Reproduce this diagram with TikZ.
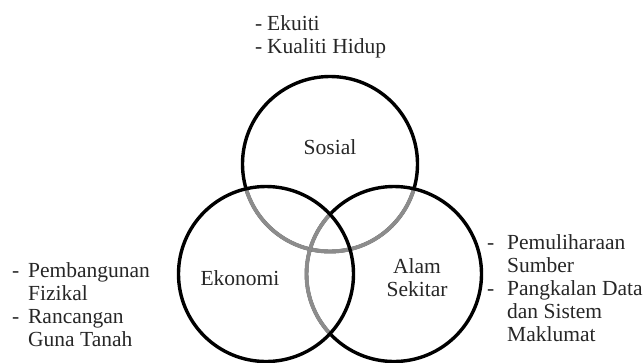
\documentclass[tikz,border=0pt]{standalone}
\usepackage{fontspec}
\setmainfont{Liberation Serif}
\usetikzlibrary{positioning}
\begin{document}
\begin{tikzpicture}[x=1pt, y=-1pt, font=\fontsize{21.5}{23}\selectfont]
\tikzset{
  ring/.style={draw=black, line width=3.4pt, circle, minimum size=175pt, inner sep=0pt},
  ghost/.style={draw=black!45, line width=3.9pt},
  lbl/.style={inner sep=0pt, text=black!85},
  lst/.style={inner sep=0pt, anchor=north west, text=black!85}
}
\useasboundingbox (0,0) rectangle (644,362);

% Sosial
\node[ring] (sosial) at (330,164) {};
\begin{scope}
  \clip (266,274) circle[radius=89];
  \draw[ghost] (sosial.center) circle[radius=87.5];
\end{scope}
\begin{scope}
  \clip (394,274) circle[radius=89];
  \draw[ghost] (sosial.center) circle[radius=87.5];
\end{scope}

% Alam Sekitar
\node[ring] (alam) at (394,274) {};
\begin{scope}
  \clip (266,274) circle[radius=89];
  \draw[ghost] (alam.center) circle[radius=87.5];
\end{scope}

% Ekonomi
\node[ring] (ekonomi) at (266,274) {};

% Labels
\node[lbl] at ([yshift=17pt]sosial.center) {Sosial};
\node[lbl] at ([xshift=-26pt, yshift=-4pt]ekonomi.center) {Ekonomi};
\node[lbl, align=center] at ([xshift=23pt, yshift=-4pt]alam.center) {Alam\\Sekitar};

% Senarai
\node[lst] (sosiallist) at (255,14) {\begin{tabular}{@{}l@{\hspace{4.8pt}}l@{}}
-&Ekuiti\\ -&Kualiti Hidup\end{tabular}};
\node[lst] (ekonomilist) at (12,261) {\begin{tabular}{@{}l@{\hspace{8.8pt}}l@{}}
-&Pembangunan\\ &Fizikal\\ -&Rancangan\\ &Guna Tanah\end{tabular}};
\node[lst] (alamlist) at (487,233) {\begin{tabular}{@{}l@{\hspace{12.8pt}}l@{}}
-&Pemuliharaan\\ &Sumber\\ -&Pangkalan Data\\ &dan Sistem\\ &Maklumat\end{tabular}};
\end{tikzpicture}
\end{document}
